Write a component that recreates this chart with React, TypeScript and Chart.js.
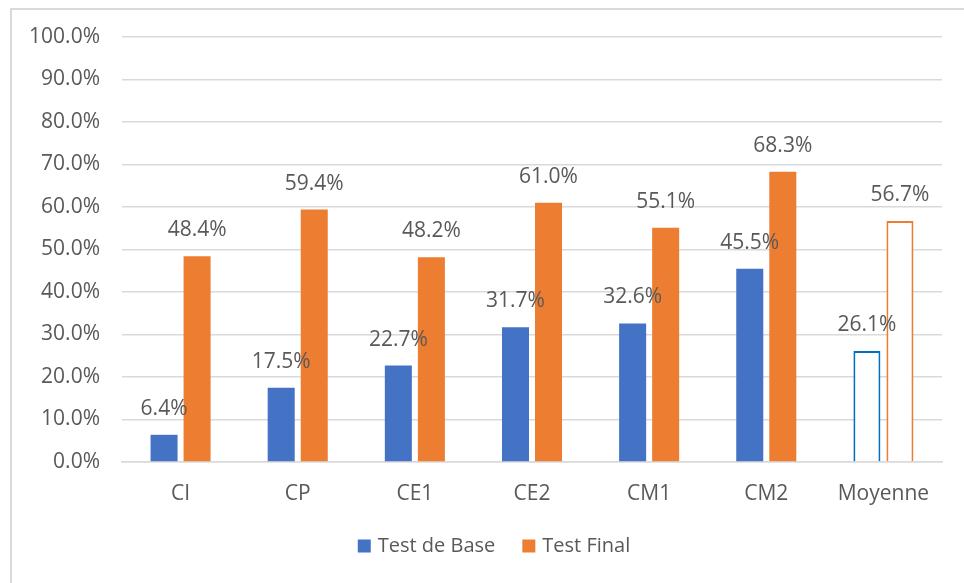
import React, { useEffect, useRef } from "react";
import { Chart, registerables } from "chart.js";

Chart.register(...registerables);

const categories = ["CI", "CP", "CE1", "CE2", "CM1", "CM2", "Moyenne"];
const testDeBase = [6.4, 17.5, 22.7, 31.7, 32.6, 45.5, 26.1];
const testFinal = [48.4, 59.4, 48.2, 61.0, 55.1, 68.3, 56.7];
const seriesNames = ["Test de Base", "Test Final"];

const BLUE = "#4472c4";
const ORANGE = "#ed7d31";
const OUTLINE_BLUE = "#0070c0";
const TEXT = "#595959";
const GRID = "#d9d9d9";
const FONT = "'Open Sans', sans-serif";
const seriesColors = [BLUE, ORANGE];

const lastIdx = categories.length - 1;

const labelPlugin = {
  id: "barLabels",
  afterDatasetsDraw(chart: any) {
    const ctx = chart.ctx;
    ctx.save();
    ctx.font = `21px ${FONT}`;
    ctx.fillStyle = TEXT;
    ctx.textAlign = "center";
    ctx.textBaseline = "middle";
    chart.data.datasets.forEach((ds: any, di: number) => {
      const meta = chart.getDatasetMeta(di);
      meta.data.forEach((bar: any, i: number) => {
        const v = ds.data[i];
        ctx.fillText(v.toFixed(1) + "%", bar.x, bar.y - 26);
      });
    });
    ctx.restore();
  },
};

const legendPlugin = {
  id: "customLegend",
  afterDraw(chart: any) {
    const ctx = chart.ctx;
    ctx.save();
    ctx.font = `20px ${FONT}`;
    ctx.textBaseline = "middle";
    const box = 13;
    const gapText = 7;
    const gapItem = 27;
    const widths = seriesNames.map((n) => box + gapText + ctx.measureText(n).width);
    const total = widths.reduce((a, b) => a + b, 0) + gapItem * (widths.length - 1);
    let x = 494 - total / 2;
    const y = 546;
    seriesNames.forEach((n, i) => {
      ctx.fillStyle = seriesColors[i];
      ctx.fillRect(x, y - box / 2, box, box);
      ctx.fillStyle = TEXT;
      ctx.textAlign = "left";
      ctx.fillText(n, x + box + gapText, y);
      x += widths[i] + gapItem;
    });
    ctx.restore();
  },
};

export default function App() {
  const ref = useRef<HTMLCanvasElement>(null);
  useEffect(() => {
    if (!ref.current) return;
    const chart = new Chart(ref.current, {
      type: "bar",
      data: {
        labels: categories,
        datasets: [
          {
            label: seriesNames[0],
            data: testDeBase,
            backgroundColor: testDeBase.map((_, i) => (i === lastIdx ? "#ffffff" : BLUE)),
            borderColor: testDeBase.map((_, i) => (i === lastIdx ? OUTLINE_BLUE : BLUE)),
            borderWidth: testDeBase.map((_, i) => (i === lastIdx ? 2 : 0)),
            categoryPercentage: 0.564,
            barPercentage: 0.818,
          },
          {
            label: seriesNames[1],
            data: testFinal,
            backgroundColor: testFinal.map((_, i) => (i === lastIdx ? "#ffffff" : ORANGE)),
            borderColor: ORANGE,
            borderWidth: testFinal.map((_, i) => (i === lastIdx ? 2 : 0)),
            categoryPercentage: 0.564,
            barPercentage: 0.818,
          },
        ],
      },
      options: {
        animation: false,
        responsive: false,
        maintainAspectRatio: false,
        layout: { padding: { left: 0, right: 22, top: 37, bottom: 71 } },
        plugins: {
          tooltip: { enabled: false },
          legend: { display: false },
        },
        scales: {
          x: {
            grid: { display: false, drawTicks: false },
            border: { color: GRID, width: 1.5 },
            ticks: { font: { family: FONT, size: 21 }, color: TEXT, padding: 19 },
            afterFit: (s: any) => {
              s.height = 50;
            },
          },
          y: {
            min: 0,
            max: 100,
            ticks: {
              stepSize: 10,
              font: { family: FONT, size: 21 },
              color: TEXT,
              padding: 22,
              callback: (v: any) => Number(v).toFixed(1) + "%",
            },
            grid: { color: GRID, lineWidth: 1.5, drawTicks: false },
            border: { display: false },
            afterFit: (s: any) => {
              s.width = 122;
            },
          },
        },
      },
      plugins: [labelPlugin, legendPlugin],
    });
    return () => chart.destroy();
  }, []);

  return (
    <div style={{ position: "fixed", left: 0, top: 0, width: 964, height: 583, background: "#fff", overflow: "hidden" }}>
      <div
        style={{
          position: "absolute",
          left: 10,
          top: 8,
          width: 980,
          height: 600,
          borderLeft: `2px solid ${GRID}`,
          borderTop: `2px solid ${GRID}`,
        }}
      />
      <canvas ref={ref} width={964} height={583} style={{ position: "absolute", left: 0, top: 0 }} />
    </div>
  );
}
